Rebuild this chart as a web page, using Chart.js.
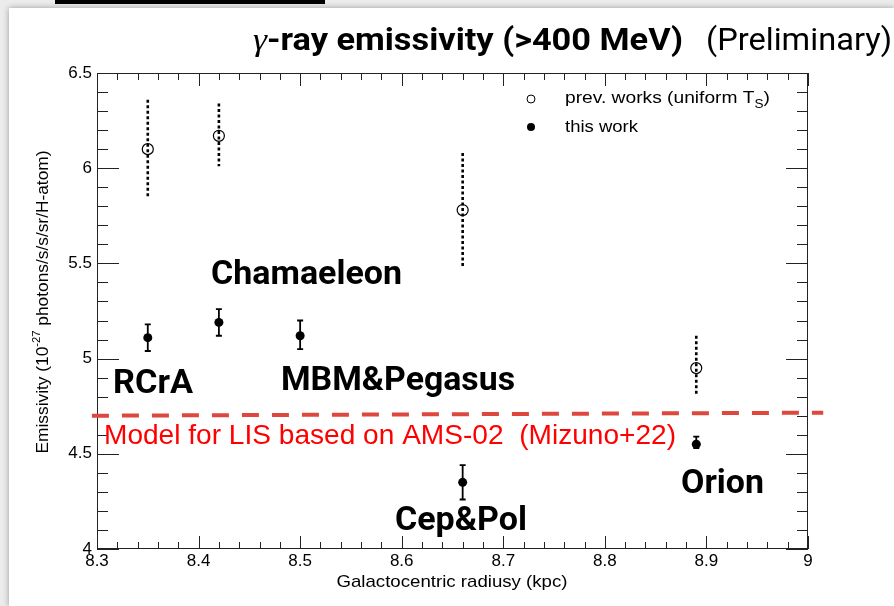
<!DOCTYPE html>
<html><head><meta charset="utf-8">
<script src="https://cdn.jsdelivr.net/npm/chart.js@4/dist/chart.umd.min.js"></script>
<style>
html,body{margin:0;padding:0;}
body{width:894px;height:606px;background:#ececec;overflow:hidden;position:relative;}
#panel{position:absolute;left:9px;top:8px;width:885px;height:598px;background:#fff;box-shadow:0 0 6px rgba(0,0,0,0.35);}
#bar{position:absolute;left:55px;top:0;width:270px;height:4px;background:#000;}
#wrap{position:absolute;left:0;top:0;width:894px;height:606px;}
</style></head>
<body>
<div id="bar"></div>
<div id="panel"></div>
<div id="wrap"><canvas id="c"></canvas></div>
<script>
// ---- data ----
const radiusPrev = [8.35, 8.42, 8.66, 8.89];
const emisPrev = [6.10, 6.17, 5.78, 4.95];
const emisPrevHigh = [6.36, 6.34, 6.08, 5.12];
const emisPrevLow = [5.85, 6.01, 5.48, 4.81];

const radiusThis = [8.35, 8.42, 8.50, 8.66, 8.89];
const emisThis = [5.11, 5.19, 5.12, 4.35, 4.55];
const emisThisHigh = [5.18, 5.26, 5.20, 4.44, 4.59];
const emisThisLow = [5.04, 5.12, 5.05, 4.26, 4.53];

const modelX = [8.295, 9.015];
const modelY = [4.700, 4.716];

const xTickValues = [8.3, 8.4, 8.5, 8.6, 8.7, 8.8, 8.9, 9.0];
const xTickLabels = ['8.3', '8.4', '8.5', '8.6', '8.7', '8.8', '8.9', '9'];
const yTickValues = [4, 4.5, 5, 5.5, 6, 6.5];
const yTickLabels = ['4', '4.5', '5', '5.5', '6', '6.5'];

const regionNames = ['RCrA', 'Chamaeleon', 'MBM&Pegasus', 'Cep&Pol', 'Orion'];
const legendLabels = ['prev. works (uniform T', 'this work'];
const modelLabel = 'Model for LIS based on AMS-02  (Mizuno+22)';
const titleMain = '-ray emissivity (>400 MeV)';
const titleSub = '(Preliminary)';
const xTitle = 'Galactocentric radiusy (kpc)';

// ---- layout of annotations (pixels) ----
const regionLayout = [
  {x: 113, y: 393, w: 80},
  {x: 211, y: 284, w: 191},
  {x: 281, y: 390, w: 234},
  {x: 395, y: 530, w: 132},
  {x: 681, y: 493, w: 83}
];

function drawFit(ctx, segs, x, y, targetW, align) {
  let total = 0;
  segs.forEach(s => { ctx.font = s.font; s.w = ctx.measureText(s.t).width; total += s.w; });
  const k = targetW ? targetW / total : 1;
  ctx.save();
  ctx.translate(x, y);
  ctx.scale(k, 1);
  let cx = align === 'center' ? -total / 2 : 0;
  ctx.textBaseline = 'alphabetic';
  ctx.textAlign = 'left';
  segs.forEach(s => {
    ctx.font = s.font; ctx.fillStyle = s.color || '#000';
    ctx.fillText(s.t, cx, s.dy || 0); cx += s.w;
  });
  ctx.restore();
}

const decor = {
  id: 'decor',
  beforeDatasetsDraw(chart) {
    const {ctx, chartArea: a, scales: {x, y}} = chart;
    ctx.save();
    ctx.strokeStyle = '#222';
    ctx.lineWidth = 1;
    ctx.strokeRect(a.left + 0.5, a.top + 0.5, a.right - a.left - 1, a.bottom - a.top - 1);
    ctx.beginPath();
    for (let i = 0; i <= 35; i++) {
      const v = 8.3 + i * 0.02;
      const px = Math.round(x.getPixelForValue(v)) + 0.5;
      const len = (i % 5 === 0) ? 13 : 7;
      ctx.moveTo(px, a.bottom); ctx.lineTo(px, a.bottom - len);
      ctx.moveTo(px, a.top); ctx.lineTo(px, a.top + len);
    }
    for (let i = 0; i <= 25; i++) {
      const v = 4 + i * 0.1;
      const py = Math.round(y.getPixelForValue(v)) + 0.5;
      const len = (i % 5 === 0) ? 22 : 11;
      ctx.moveTo(a.left, py); ctx.lineTo(a.left + len, py);
      ctx.moveTo(a.right, py); ctx.lineTo(a.right - len, py);
    }
    ctx.stroke();
    ctx.restore();
  },
  afterDatasetsDraw(chart) {
    const {ctx, scales: {x, y}} = chart;
    ctx.save();
    ctx.strokeStyle = '#000';
    ctx.lineWidth = 2.6;
    ctx.setLineDash([3, 2.5]);
    radiusPrev.forEach((r, i) => {
      const px = x.getPixelForValue(r);
      ctx.beginPath();
      ctx.moveTo(px, y.getPixelForValue(emisPrevHigh[i]));
      ctx.lineTo(px, y.getPixelForValue(emisPrevLow[i]));
      ctx.stroke();
    });
    ctx.setLineDash([]);
    ctx.lineWidth = 1.8;
    radiusThis.forEach((r, i) => {
      const px = x.getPixelForValue(r);
      const ph = y.getPixelForValue(emisThisHigh[i]);
      const pl = y.getPixelForValue(emisThisLow[i]);
      ctx.beginPath();
      ctx.moveTo(px, ph); ctx.lineTo(px, pl);
      ctx.moveTo(px - 3, ph); ctx.lineTo(px + 3, ph);
      ctx.moveTo(px - 3, pl); ctx.lineTo(px + 3, pl);
      ctx.stroke();
    });
    ctx.restore();

    // ---- texts ----
    drawFit(ctx, [
      {t: 'γ', font: 'italic 32px "Liberation Serif"'},
      {t: titleMain, font: 'bold 31px Roboto'}
    ], 253, 50, 430, 'left');
    drawFit(ctx, [{t: titleSub, font: '31px Roboto'}], 706, 50, 186, 'left');
    regionNames.forEach((n, i) => {
      const L = regionLayout[i];
      drawFit(ctx, [{t: n, font: 'bold 34px Roboto'}], L.x, L.y, L.w, 'left');
    });
    drawFit(ctx, [{t: modelLabel, font: '28px "Liberation Sans"', color: '#ff0000'}], 104, 444, 572, 'left');
    ctx.save();
    ctx.strokeStyle = '#000'; ctx.lineWidth = 1;
    ctx.beginPath(); ctx.arc(531, 99, 4, 0, Math.PI * 2); ctx.stroke();
    ctx.fillStyle = '#000';
    ctx.beginPath(); ctx.arc(531, 127, 4, 0, Math.PI * 2); ctx.fill();
    ctx.restore();
    drawFit(ctx, [
      {t: legendLabels[0], font: '17px "Liberation Sans"'},
      {t: 'S', font: '12px "Liberation Sans"', dy: 5},
      {t: ')', font: '17px "Liberation Sans"'}
    ], 565, 103, 205, 'left');
    drawFit(ctx, [{t: legendLabels[1], font: '17px "Liberation Sans"'}], 565, 132, 73, 'left');
    drawFit(ctx, [{t: xTitle, font: '17px "Liberation Sans"'}], 452, 587, 231, 'center');
    ctx.save();
    ctx.translate(48, 302);
    ctx.rotate(-Math.PI / 2);
    drawFit(ctx, [
      {t: 'Emissivity (10', font: '17px "Liberation Sans"'},
      {t: '-27', font: '11px "Liberation Sans"', dy: -8},
      {t: ' photons/s/s/sr/H-atom)', font: '17px "Liberation Sans"'}
    ], 0, 0, 303, 'center');
    ctx.restore();
  }
};

new Chart(document.getElementById('c'), {
  type: 'scatter',
  data: {
    datasets: [
      {
        type: 'line',
        label: 'model',
        data: modelX.map((v, i) => ({x: v, y: modelY[i]})),
        borderColor: '#de473d',
        borderWidth: 4,
        borderDash: [17, 13],
        pointRadius: 0,
        clip: false,
        fill: false
      },
      {
        label: 'prev',
        data: radiusPrev.map((v, i) => ({x: v, y: emisPrev[i]})),
        pointRadius: 5.5,
        pointBackgroundColor: 'rgba(0,0,0,0)',
        pointBorderColor: '#000',
        pointBorderWidth: 1.2
      },
      {
        label: 'this',
        data: radiusThis.map((v, i) => ({x: v, y: emisThis[i]})),
        pointRadius: 4.5,
        pointBackgroundColor: '#000',
        pointBorderColor: '#000',
        pointBorderWidth: 0
      }
    ]
  },
  options: {
    responsive: true,
    maintainAspectRatio: false,
    animation: false,
    layout: {padding: {left: 0, right: 86, top: 73, bottom: 0}},
    plugins: {legend: {display: false}, tooltip: {enabled: false}, title: {display: false}},
    scales: {
      x: {
        type: 'linear', min: 8.3, max: 9,
        afterFit(s) { s.height = 57; },
        afterBuildTicks(s) { s.ticks = xTickValues.map(v => ({value: v})); },
        grid: {display: false, drawTicks: false},
        border: {display: false},
        ticks: {
          autoSkip: false, maxRotation: 0, padding: 2, color: '#000',
          font: {family: 'Liberation Sans', size: 17},
          callback: (v) => xTickLabels[xTickValues.findIndex(t => Math.abs(t - v) < 1e-6)]
        }
      },
      y: {
        type: 'linear', min: 4, max: 6.5,
        afterFit(s) { s.width = 97; },
        afterBuildTicks(s) { s.ticks = yTickValues.map(v => ({value: v})); },
        grid: {display: false, drawTicks: false},
        border: {display: false},
        ticks: {
          autoSkip: false, padding: 5, color: '#000',
          font: {family: 'Liberation Sans', size: 17},
          callback: (v) => yTickLabels[yTickValues.findIndex(t => Math.abs(t - v) < 1e-6)]
        }
      }
    }
  },
  plugins: [decor]
});
</script>
</body></html>
